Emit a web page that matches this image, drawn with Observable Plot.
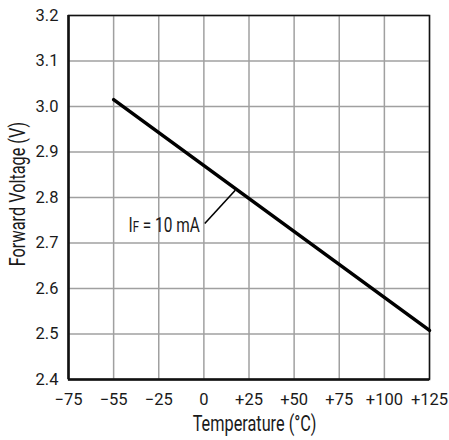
<!DOCTYPE html>
<html><head><meta charset="utf-8">
<script src="https://cdn.jsdelivr.net/npm/d3@7"></script>
<script src="https://cdn.jsdelivr.net/npm/@observablehq/plot@0.6"></script>
<style>body{margin:0;background:#fff}</style>
</head><body><div id="chart"></div>
<script>
// Data
const tempTicks = [-75, -55, -25, 0, 25, 50, 75, 100, 125];
const tempLabels = ["−75", "−55", "−25", "0", "+25", "+50", "+75", "+100", "+125"];
const voltTicks = [2.4, 2.5, 2.6, 2.7, 2.8, 2.9, 3.0, 3.1, 3.2];
const curveTemp = [-55, 125];
const curveVolt = [3.015, 2.508];
const noteMain = "I", noteSub = "F", noteRest = " = 10 mA";
const noteAt = {t: -2.3, v: 2.737};
const leader = {t1: 0.5, v1: 2.743, t2: 17.4, v2: 2.816};
const xTitle = "Temperature (°C)";
const yTitle = "Forward Voltage (V)";

const W = 449, H = 440, mL = 68, mR = 20, mT = 15, mB = 61;
const xRange = tempTicks.map((_, i) => mL + i * (W - mL - mR) / (tempTicks.length - 1));
const font = "Roboto, 'Liberation Sans', sans-serif";

const curve = curveTemp.map((t, i) => ({t, v: curveVolt[i]}));

const chart = Plot.plot({
  width: W, height: H,
  marginLeft: mL, marginRight: mR, marginTop: mT, marginBottom: mB,
  style: {fontFamily: font, fontSize: "16.5px", color: "#1a1a1a", background: "#fff"},
  x: {type: "linear", domain: tempTicks, range: xRange},
  y: {domain: [2.4, 3.2]},
  marks: [
    Plot.gridX(tempTicks, {stroke: "#a0a0a0", strokeOpacity: 1, strokeWidth: 1.5}),
    Plot.gridY(voltTicks, {stroke: "#a0a0a0", strokeOpacity: 1, strokeWidth: 1.5}),
    Plot.frame({stroke: "#111", strokeWidth: 1.5}),
    Plot.ruleY([2.4], {stroke: "#111", strokeWidth: 2.5}),
    Plot.ruleX([-75], {stroke: "#111", strokeWidth: 2.5}),
    Plot.axisX({ticks: tempTicks, tickFormat: d => tempLabels[tempTicks.indexOf(d)], tickSize: 0, tickPadding: 13.5, label: null, fontSize: 16.5}),
    Plot.axisY({ticks: voltTicks, tickFormat: d3.format(".1f"), tickSize: 0, tickPadding: 10, label: null, fontSize: 16.5}),
    Plot.line(curve, {x: "t", y: "v", stroke: "#000", strokeWidth: 3.5}),
    Plot.link([leader], {x1: "t1", y1: "v1", x2: "t2", y2: "v2", stroke: "#000", strokeWidth: 1.6}),
    Plot.text([noteMain + noteSub + noteRest], {x: noteAt.t, y: noteAt.v, text: d => d, textAnchor: "end", lineAnchor: "middle", fontSize: 19.5, fill: "#1a1a1a", className: "note"}),
    Plot.text([xTitle], {frameAnchor: "bottom", textAnchor: "middle", lineAnchor: "middle", dx: 5.5, dy: 44, fontSize: 22, fill: "#1a1a1a", className: "title"}),
    Plot.text([yTitle], {frameAnchor: "left", textAnchor: "middle", lineAnchor: "middle", rotate: -90, dx: -50.5, dy: -3.5, fontSize: 22, fill: "#1a1a1a", className: "title"})
  ]
});
document.getElementById("chart").appendChild(chart);

// Render the "F" of I_F smaller, as in the reference
d3.select(chart).selectAll("g.note text").each(function() {
  const t = d3.select(this);
  t.text(null);
  t.append("tspan").text(noteMain);
  t.append("tspan").attr("font-size", "14.5px").text(noteSub);
  t.append("tspan").text(noteRest);
});

// Emulate the condensed typeface of the reference (horizontal squeeze about the anchor)
function condense(sel, k) {
  d3.select(chart).selectAll(sel).each(function() {
    const tr = this.getAttribute("transform") || "";
    this.setAttribute("transform", (tr + ` scale(${k},1)`).trim());
  });
}
condense("g.title text", 0.74);
condense("g.note text", 0.79);
</script></body></html>
